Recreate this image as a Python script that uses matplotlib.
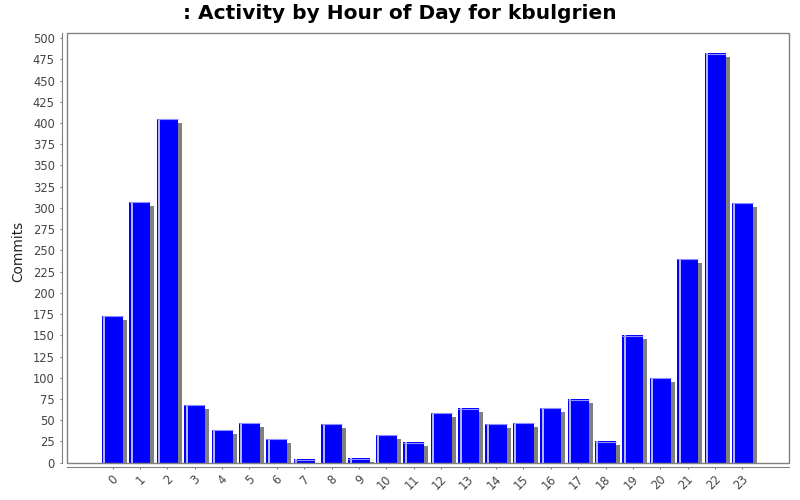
import matplotlib
matplotlib.use("Agg")
import matplotlib.pyplot as plt
import matplotlib.transforms as mtransforms
from matplotlib.patches import Rectangle

hours = [str(h) for h in range(24)]
commits = [173, 307, 405, 68, 39, 47, 28, 4, 46, 5, 33, 24,
           59, 64, 46, 47, 65, 75, 25, 150, 100, 240, 482, 306]
yticks = list(range(0, 501, 25))

title = ": Activity by Hour of Day for kbulgrien"
ylabel = "Commits"

plt.rcParams['font.family'] = ['DejaVu Sans']
fig = plt.figure(figsize=(8, 5), dpi=100)
W, H = 800, 500
ax = fig.add_axes([66.5 / W, (500 - 462.7) / H, (788.5 - 66.5) / W, (462.7 - 33) / H])

x = list(range(len(hours)))
bw = 0.77

shadow_tr = mtransforms.offset_copy(ax.transData, fig=fig, x=4, y=-4, units='dots')
ax.bar(x, commits, width=bw, color='#808080', transform=shadow_tr, zorder=2)
ax.bar(x, commits, width=bw, color='#0000ff', zorder=3)

hl_tr = mtransforms.offset_copy(ax.transData, fig=fig, x=2.5, y=0, units='dots')
ax.vlines([xi - bw / 2 for xi in x], 0, commits, colors='#d8d8ff', linewidth=1.2,
          transform=hl_tr, zorder=4)
top_tr = mtransforms.offset_copy(ax.transData, fig=fig, x=0, y=-0.5, units='dots')
ax.hlines(commits, [xi - bw / 2 for xi in x], [xi + bw / 2 for xi in x],
          colors='#9090ff', linewidth=0.8, transform=top_tr, zorder=4)

ax.set_xlim(-1.68, 23 + 1.68)
ax.set_ylim(0, 506)
ax.set_yticks(yticks)
ax.set_xticks(x)
ax.set_xticklabels(hours)

gray = '#808080'
for s in ['top', 'right']:
    ax.spines[s].set_visible(False)
ax.spines['left'].set_position(('outward', 3.6))
ax.spines['bottom'].set_position(('outward', 2.9))
ax.spines['left'].set_color(gray)
ax.spines['bottom'].set_color(gray)
ax.add_patch(Rectangle((0, 0), 1, 1, transform=ax.transAxes, fill=False,
                       edgecolor=gray, linewidth=1.0, clip_on=False, zorder=5))

ax.tick_params(axis='y', length=1.8, width=0.8, color=gray, labelsize=8.3,
               labelcolor='#444444', pad=3)
ax.tick_params(axis='x', length=1.5, width=0.8, color=gray, labelsize=8.3,
               labelcolor='#444444', pad=6.2)
shift = mtransforms.ScaledTranslation(3.5 / 100, 0, fig.dpi_scale_trans)
for lab in ax.get_xticklabels():
    lab.set_rotation(45)
    lab.set_ha('right')
    lab.set_va('center')
    lab.set_rotation_mode('anchor')
    lab.set_transform(lab.get_transform() + shift)

ax.set_ylabel(ylabel, fontsize=9.8, color='#222222')
ax.yaxis.set_label_coords(-(66.5 - 25.5) / 722.0, 0.4927)
fig.text(0.5, 1 - 13.5 / H, title, ha='center', va='center', fontsize=14.5,
         fontweight='bold', color='black')

fig.savefig('out.png', dpi=100)
